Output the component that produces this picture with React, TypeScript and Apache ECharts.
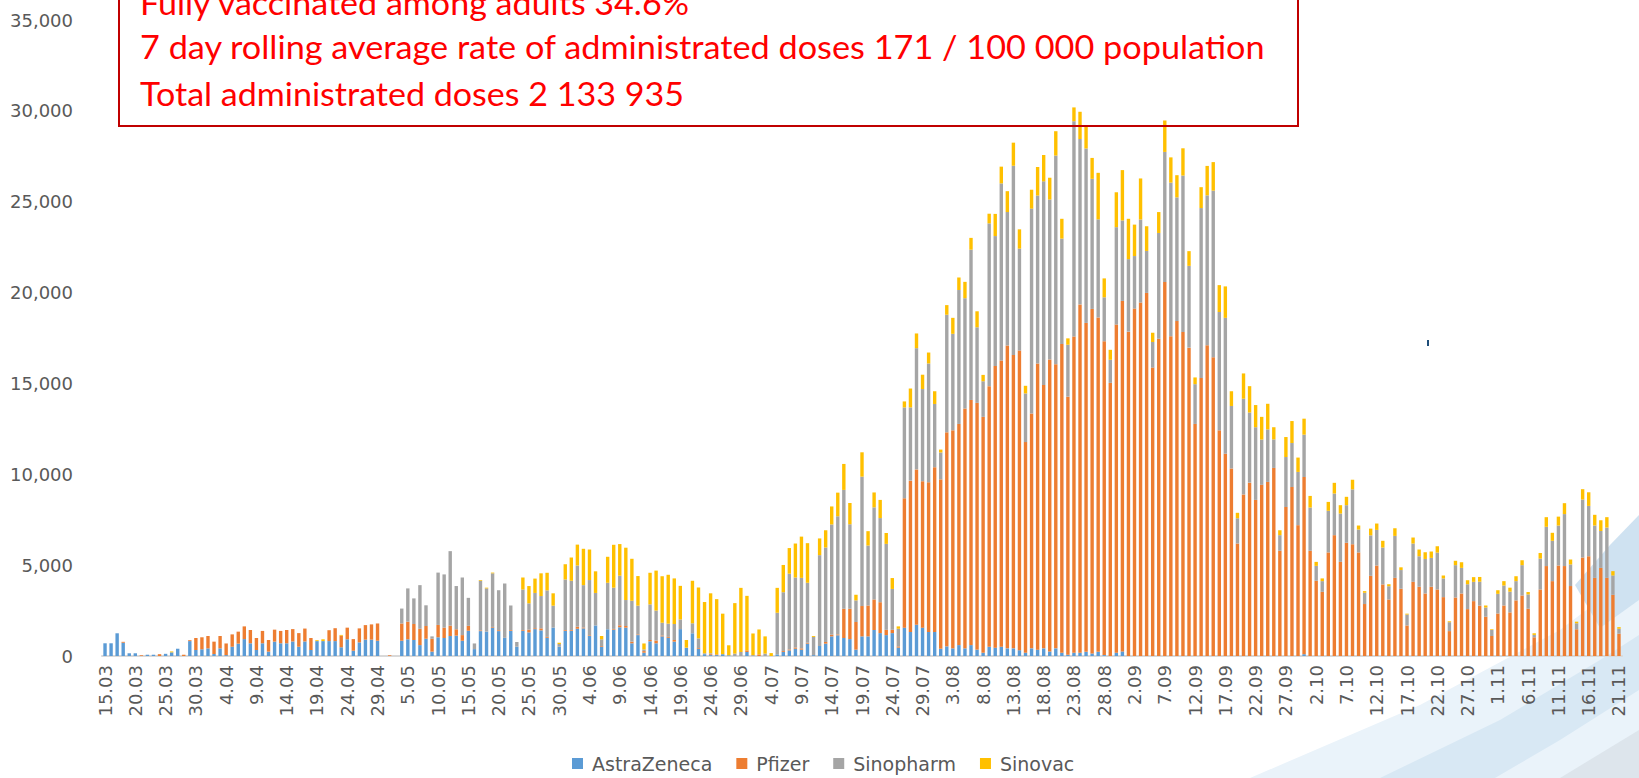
import React, { useEffect, useRef } from "react";
import * as echarts from "echarts";

// ---- categories (dd.mm), one reporting day (2.05) absent in the source ----
const MONTHS: [number, number, number, number[]][] = [
  [3, 15, 31, []],
  [4, 1, 30, []],
  [5, 1, 31, [2]],
  [6, 1, 30, []],
  [7, 1, 31, []],
  [8, 1, 31, []],
  [9, 1, 30, []],
  [10, 1, 31, []],
  [11, 1, 21, []],
];
const categories: string[] = [];
MONTHS.forEach(([m, from, to, skip]) => {
  for (let d = from; d <= to; d++) {
    if (skip.indexOf(d) >= 0) continue;
    categories.push(d + "." + (m < 10 ? "0" + m : String(m)));
  }
});

const SERIES_NAMES = ["AstraZeneca", "Pfizer", "Sinopharm", "Sinovac"];
const COLORS = ["#5b9bd5", "#ed7d31", "#a5a5a5", "#ffc000"];
const Y_TICKS = [0, 5000, 10000, 15000, 20000, 25000, 30000, 35000];

const astraZeneca = [
  // March 15-31
  700, 700, 1250, 730, 150, 150, 0, 70, 70, 0, 120, 200, 400, 0, 820, 330, 370,
  // April
  420, 110, 420, 50, 510, 680, 930, 700, 330, 700, 240, 790, 700, 700, 800, 510, 800, 330, 820, 820,
  820, 820, 480, 920, 290, 750, 900, 900, 840, 0,
  // May
  0, 0, 840, 920, 880, 600, 950, 240, 1030, 990, 1100, 1120, 840, 1390, 380, 1370, 1340, 1560, 1370, 1000,
  1390, 510, 1390, 1300, 1480, 1410, 1000, 1560, 510, 1390,
  // June
  1390, 1500, 1520, 1100, 1680, 510, 1470, 1450, 1580, 1560, 700, 1150, 180, 810, 700, 1080, 1000, 790, 1480, 440,
  1250, 400, 100, 50, 50, 100, 40, 0, 0, 220,
  // July
  0, 0, 0, 0, 90, 220, 310, 400, 350, 680, 50, 550, 680, 1080, 1140, 990, 930, 350, 1080, 1080,
  1430, 1260, 1150, 1260, 460, 1560, 1320, 1720, 1560, 1320, 1320,
  // August
  400, 530, 420, 600, 420, 600, 350, 180, 510, 460, 510, 420, 420, 320, 180, 420, 350, 420, 250, 420,
  180, 70, 180, 180, 230, 140, 230, 50, 0, 180, 250,
  // September
  0, 0, 0, 0, 0, 0, 0, 0, 0, 0, 0, 0, 0, 0, 0, 0, 0, 0, 0, 0, 0, 0, 0, 0, 0, 0, 0, 0, 0, 100,
  // October
  0, 0, 0, 0, 0, 0, 0, 0, 0, 0, 0, 0, 0, 0, 0, 0, 0, 0, 0, 0, 0, 0, 0, 0, 0, 0, 0, 0, 0, 0, 0,
  // November 1-21
  0, 0, 0, 0, 0, 0, 0, 0, 0, 0, 0, 0, 0, 0, 0, 0, 0, 0, 0, 0, 0,
];

const pfizer = [
  // March 15-31
  0, 0, 0, 50, 0, 0, 40, 0, 0, 100, 0, 0, 0, 70, 50, 660, 660,
  // April
  680, 680, 680, 640, 680, 660, 700, 730, 660, 680, 640, 660, 680, 730, 680, 750, 710, 660, 0, 0,
  600, 710, 640, 640, 640, 770, 800, 840, 950, 0,
  // May
  40, 0, 950, 970, 880, 900, 700, 710, 680, 570, 570, 350, 310, 270, 0, 40, 0, 40, 50, 0,
  40, 0, 40, 150, 50, 110, 50, 0, 0, 40,
  // June
  40, 110, 50, 40, 0, 40, 0, 40, 110, 90, 90, 40, 90, 70, 150, 50, 50, 90, 0, 0,
  0, 40, 0, 50, 40, 0, 0, 0, 0, 90,
  // July
  0, 90, 0, 0, 0, 50, 50, 70, 70, 50, 0, 0, 90, 90, 50, 1610, 1670, 1520, 1670, 1700,
  1680, 1700, 290, 180, 70, 7120, 8330, 8550, 8060, 8240, 9070,
  // August
  9320, 11780, 12000, 12170, 13200, 13490, 13580, 12980, 14340, 15500, 15750, 16670, 16140, 16490, 11590, 12930, 15750, 14500, 16070, 15640,
  16990, 14200, 17400, 19170, 18100, 18960, 18400, 17270, 15030, 18060, 19290,
  // September
  17850, 19120, 19450, 19980, 15870, 17460, 20580, 17600, 18430, 17830, 16970, 12770, 15300, 17100, 16440, 12420, 11130, 10320, 6190, 8890,
  9540, 8590, 9420, 9580, 10350, 5790, 8200, 9300, 7200, 9750,
  // October
  5790, 4140, 3530, 5700, 6650, 5180, 6230, 6150, 5700, 2860, 4410, 4980, 3940, 3110, 4300, 3700, 1680, 4080, 3810, 3440,
  3810, 3660, 3240, 1370, 3220, 3440, 2580, 3020, 2770, 2160, 1100,
  // November 1-21
  2340, 2780, 2400, 3060, 3330, 2600, 1030, 3660, 4950, 4120, 4980, 4950, 3850, 1470, 5420, 5490, 4300, 4850, 4300, 3370, 1230,
];

const sinopharm = [
  // March 15-31
  0, 0, 0, 0, 0, 0, 0, 0, 0, 0, 0, 0, 0, 0, 0, 0, 0,
  // April
  0, 0, 0, 0, 0, 0, 0, 0, 0, 0, 0, 0, 0, 0, 0, 0, 0, 0, 0, 0, 0, 0, 0, 0, 0, 0, 0, 0, 0, 0,
  // May
  0, 0, 820, 1830, 1410, 2400, 1140, 130, 2880, 2930, 4100, 2380, 3170, 1540, 310, 2730, 2380, 2950, 2200, 2990,
  1350, 260, 2230, 1450, 1940, 1780, 2560, 1210, 150, 2780,
  // June
  2710, 3370, 2330, 3040, 1790, 370, 2560, 2270, 2730, 1430, 2250, 1580, 90, 1960, 1650, 700, 730, 880, 530, 20,
  550, 530, 50, 50, 0, 0, 0, 130, 220, 0,
  // July
  50, 0, 130, 0, 2290, 3240, 4170, 3850, 3880, 3300, 1000, 5000, 5200, 6070, 6500, 6540, 4650, 1190, 7120, 3300,
  5070, 4630, 4730, 2250, 970, 5000, 4030, 6670, 5070, 6540, 3480,
  // August
  1480, 6470, 5310, 7370, 6070, 8270, 4160, 1960, 8960, 7150, 9750, 7340, 10420, 5610, 2680, 11270, 9240, 11200, 8800, 11480,
  5800, 2860, 11850, 9100, 9600, 7160, 5400, 2420, 1270, 5360, 4430,
  // September
  3990, 2890, 4570, 2310, 1410, 5820, 7160, 8450, 6810, 8610, 4500, 2190, 9350, 8250, 9170, 6510, 7480, 3440, 1390, 5270,
  3860, 4000, 2490, 2890, 1570, 860, 2750, 2420, 2930, 2330,
  // October
  2380, 820, 590, 2290, 2290, 2660, 2070, 3020, 1260, 620, 2230, 1960, 2030, 730, 2310, 1030, 600, 2110, 1680, 1900,
  1590, 2030, 1030, 490, 1780, 1410, 1370, 1060, 1320, 510, 330,
  // November 1-21
  1080, 1100, 1140, 1060, 1670, 790, 130, 1700, 2160, 2220, 2200, 2860, 1190, 330, 3190, 2770, 2880, 2030, 2770, 1060, 270,
];

const sinovac = [
  // March 15-31
  0, 0, 0, 0, 0, 0, 0, 0, 0, 0, 0, 50, 0, 0, 0, 0, 0,
  // April
  0, 0, 0, 0, 0, 0, 0, 0, 0, 0, 0, 0, 0, 0, 0, 0, 0, 0, 50, 100,
  0, 0, 40, 0, 0, 0, 0, 0, 0, 0,
  // May
  0, 0, 0, 0, 0, 0, 0, 0, 0, 0, 0, 0, 0, 0, 0, 40, 40, 40, 0, 0,
  0, 0, 660, 950, 790, 1250, 970, 680, 70, 840,
  // June
  1280, 1150, 2000, 1680, 1190, 180, 1430, 2360, 1740, 2880, 2310, 1630, 330, 1740, 2200, 2560, 2690, 2510, 1850, 420,
  2340, 2800, 2820, 3300, 3040, 2230, 550, 2780, 3530, 3000,
  // July
  1190, 1370, 950, 160, 1370, 1500, 1410, 1870, 2270, 2180, 50, 920, 950, 990, 1300, 1430, 1170, 310, 1340, 790,
  820, 1000, 600, 600, 130, 330, 1040, 810, 790, 600, 700,
  // August
  160, 530, 880, 690, 900, 650, 880, 350, 530, 1220, 920, 1150, 1270, 1060, 420, 1040, 1570, 1450, 1200, 1340,
  1090, 350, 760, 1500, 1270, 1150, 2560, 1040, 550, 1920, 2770,
  // September
  2220, 1730, 2260, 1360, 510, 1150, 1730, 1390, 1220, 1500, 810, 370, 1150, 1620, 1570, 1480, 1730, 810, 300, 1390,
  1450, 1220, 1250, 1410, 670, 270, 1100, 1210, 790, 880,
  // October
  640, 220, 150, 490, 590, 460, 460, 530, 220, 90, 370, 350, 370, 110, 420, 150, 50, 330, 370, 370,
  350, 350, 160, 50, 240, 310, 220, 260, 260, 110, 40,
  // November 1-21
  200, 240, 220, 270, 270, 130, 90, 310, 530, 440, 490, 600, 270, 90, 570, 750, 590, 590, 570, 240, 90,
];

const HEADLINES = [
  "Fully vaccinated among adults 34.6%",
  "7 day rolling average rate of administrated doses 171 / 100 000 population",
  "Total administrated doses 2 133 935",
];
const HEADLINE_WIDTHS = [551, 1127, 544];
const HEADLINE_BASELINES = [15, 59, 106];

const W = 1639;
const H = 778;
const HEAD_FONT = "Lato";
const HEAD_SIZE = 33;

function measure(text: string, font: string): number {
  const c = document.createElement("canvas");
  const ctx = c.getContext("2d");
  if (!ctx) return text.length * 15;
  ctx.font = font;
  return ctx.measureText(text).width;
}

export default function App() {
  const ref = useRef<HTMLDivElement>(null);

  useEffect(() => {
    if (!ref.current) return;
    const chart = echarts.init(ref.current, undefined, { renderer: "svg" });
    const axisFont = "DejaVu Sans";

    const headlineEls = HEADLINES.map((t, i) => {
      const w = measure(t, `${HEAD_SIZE}px ${HEAD_FONT}`);
      const sx = w > 0 ? HEADLINE_WIDTHS[i] / w : 1;
      return {
        type: "text",
        x: 140,
        y: HEADLINE_BASELINES[i] - HEAD_SIZE * 0.39,
        scaleX: sx,
        z: 20,
        silent: true,
        style: {
          text: t,
          x: 0,
          y: 0,
          fill: "#ff0000",
          fontSize: HEAD_SIZE,
          fontFamily: HEAD_FONT,
          verticalAlign: "middle",
          align: "left",
        },
      };
    });

    const seriesData = [astraZeneca, pfizer, sinopharm, sinovac];

    chart.setOption({
      animation: false,
      backgroundColor: "#ffffff",
      grid: { left: 102, right: 17, top: 20, bottom: 122, containLabel: false },
      legend: {
        data: SERIES_NAMES,
        left: 570,
        top: 752,
        itemWidth: 11,
        itemHeight: 11,
        itemGap: 24,
        icon: "rect",
        padding: 2,
        textStyle: {
          color: "#595959",
          fontSize: 19,
          fontFamily: axisFont,
          padding: [0, 0, 0, 4],
        },
      },
      xAxis: {
        type: "category",
        data: categories,
        boundaryGap: true,
        axisTick: { show: false },
        axisLine: { lineStyle: { color: "#d9d9d9", width: 2 } },
        axisLabel: {
          rotate: 90,
          interval: 4,
          margin: 9,
          color: "#595959",
          fontSize: 18,
          fontFamily: axisFont,
        },
        splitLine: { show: false },
      },
      yAxis: {
        type: "value",
        min: Y_TICKS[0],
        max: Y_TICKS[Y_TICKS.length - 1],
        interval: Y_TICKS[1] - Y_TICKS[0],
        axisLine: { show: false },
        axisTick: { show: false },
        splitLine: { show: false },
        axisLabel: {
          margin: 29,
          color: "#595959",
          fontSize: 18,
          fontFamily: axisFont,
          formatter: (v: number) => v.toLocaleString("en-US"),
        },
      },
      series: SERIES_NAMES.map((name, i) => ({
        name,
        type: "bar",
        stack: "doses",
        data: seriesData[i],
        barWidth: 3.4,
        itemStyle: { color: COLORS[i] },
        emphasis: { disabled: true },
      })),
      graphic: [
        // slide background decoration, bottom right
        {
          type: "polygon",
          z: -5,
          silent: true,
          shape: { points: [[1250, 778], [1420, 705], [1560, 630], [1639, 570], [1639, 778]] },
          style: { fill: "#eaf3fa" },
        },
        {
          type: "polygon",
          z: -4,
          silent: true,
          shape: { points: [[1380, 778], [1500, 720], [1600, 660], [1639, 635], [1639, 690], [1560, 740], [1495, 778]] },
          style: { fill: "#d8e8f4" },
        },
        {
          type: "polygon",
          z: -4,
          silent: true,
          shape: { points: [[1575, 585], [1610, 545], [1639, 515], [1639, 600], [1600, 628]] },
          style: { fill: "#cfe2f1" },
        },
        {
          type: "polygon",
          z: -4,
          silent: true,
          shape: { points: [[1560, 778], [1639, 730], [1639, 778]] },
          style: { fill: "#dde5ec" },
        },
        {
          type: "rect",
          z: 1,
          silent: true,
          shape: { x: 1427, y: 340, width: 2, height: 6 },
          style: { fill: "#1f4e79" },
        },
        // headline box
        {
          type: "rect",
          z: 19,
          silent: true,
          shape: { x: 119, y: -40, width: 1179, height: 166 },
          style: { fill: "none", stroke: "#c00000", lineWidth: 2 },
        },
        ...headlineEls,
      ],
    });

    return () => chart.dispose();
  }, []);

  return (
    <div
      ref={ref}
      style={{ position: "fixed", left: 0, top: 0, width: W, height: H, background: "#ffffff" }}
    />
  );
}
